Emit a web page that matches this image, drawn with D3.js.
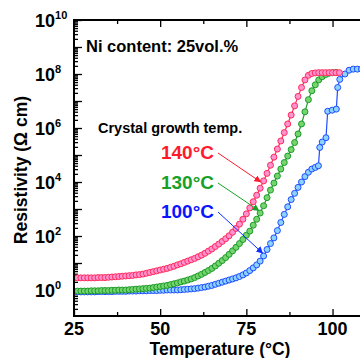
<!DOCTYPE html>
<html>
<head>
<meta charset="utf-8">
<script src="https://cdn.jsdelivr.net/npm/d3@7"></script>
<style>
  html, body { margin: 0; padding: 0; background: #fff; }
  text { font-family: "Liberation Sans", Arial, Helvetica, sans-serif; font-weight: bold; }
</style>
</head>
<body>
<svg id="chart" width="360" height="358"></svg>
<script>
// Resistivity vs. temperature, Ni content 25 vol.%, three crystal growth temperatures.
// Values are log10(resistivity / Ω·cm).

const tempsRed = d3.range(25, 103);     // 140 °C growth, 1 °C steps
const logRhoRed = [
  0.45, 0.45, 0.45, 0.45, 0.45, 0.45, 0.45, 0.46, 0.46, 0.46, 0.47,
  0.48, 0.49, 0.50, 0.51, 0.52, 0.53, 0.54, 0.56, 0.57, 0.59,
  0.62, 0.65, 0.68, 0.71, 0.74, 0.77, 0.80, 0.84, 0.88, 0.93,
  0.97, 1.02, 1.07, 1.12, 1.17, 1.23, 1.29, 1.36, 1.44, 1.52,
  1.61, 1.70, 1.80, 1.90, 2.01, 2.14, 2.28, 2.44, 2.62, 2.82,
  3.04, 3.27, 3.51, 3.77, 4.04, 4.32, 4.62, 4.92, 5.22, 5.52,
  5.83, 6.15, 6.48, 6.82, 7.17, 7.50, 7.78, 7.95, 8.02, 8.04,
  8.05, 8.05, 8.05, 8.05, 8.05, 8.05, 8.05
];

const tempsGreen = d3.range(25, 102);   // 130 °C growth
const logRhoGreen = [
  -0.04, -0.04, -0.04, -0.04, -0.04, -0.03, -0.03, -0.03, -0.02, -0.02, -0.02,
  -0.01, -0.01, 0.00, 0.00, 0.00, 0.01, 0.02, 0.03, 0.04, 0.05,
  0.06, 0.07, 0.09, 0.11, 0.13, 0.15, 0.17, 0.20, 0.23, 0.26,
  0.30, 0.33, 0.37, 0.41, 0.46, 0.52, 0.58, 0.65, 0.72, 0.80,
  0.89, 0.99, 1.09, 1.20, 1.32, 1.45, 1.58, 1.72, 1.87, 2.03,
  2.18, 2.40, 2.62, 2.85, 3.12, 3.42, 3.70, 3.96, 4.22, 4.48,
  4.72, 4.96, 5.20, 5.46, 5.78, 6.15, 6.60, 7.05, 7.38, 7.60,
  7.78, 7.90, 7.98, 8.03, 8.05, 8.06
];

const tempsBlue = [                     // 100 °C growth
  ...d3.range(25, 95),
  95, 95.9, 96.3, 97.0, 98.1, 98.6, 99.9, 101.1, 101.5, 102.1,
  103.6, 104.8, 106.0, 107.2, 108.4, 109.6
];
const logRhoBlue = [
  -0.07, -0.07, -0.07, -0.07, -0.07, -0.07, -0.07, -0.06, -0.06, -0.06, -0.06,
  -0.06, -0.05, -0.05, -0.05, -0.05, -0.04, -0.04, -0.04, -0.03, -0.03,
  -0.03, -0.02, -0.02, -0.02, -0.01, -0.01, 0.00, 0.00, 0.00, 0.00,
  0.01, 0.02, 0.03, 0.04, 0.05, 0.07, 0.09, 0.11, 0.14, 0.17,
  0.21, 0.25, 0.29, 0.33, 0.37, 0.41, 0.45, 0.50, 0.56, 0.63,
  0.72, 0.82, 0.93, 1.07, 1.26, 1.50, 1.72, 1.93, 2.20, 2.50,
  2.80, 3.08, 3.35, 3.58, 3.80, 4.00, 4.20, 4.36, 4.48,
  4.54, 4.60, 5.28, 5.48, 5.64, 6.62, 6.66, 6.70, 7.50, 7.80,
  8.00, 8.14, 8.18, 8.18, 8.18, 8.18
];

const seriesNames = ["100℃", "130℃", "140℃"];
const xTickLabels = [25, 50, 75, 100];
const xMinorTicks = [37.5, 62.5, 87.5];
const yLabelExponents = [0, 2, 4, 6, 8, 10];

const series = [
  { name: "100°C", temps: tempsBlue,  vals: logRhoBlue,  stroke: "#1f4bff", fill: "#8cd2ff", text: "#0a14ff" },
  { name: "130°C", temps: tempsGreen, vals: logRhoGreen, stroke: "#1d9a2a", fill: "#74d46e", text: "#17a02a" },
  { name: "140°C", temps: tempsRed,   vals: logRhoRed,   stroke: "#ff2a5a", fill: "#ff92d0", text: "#ff1a2e" }
];

const svg = d3.select("#chart");
const L = 74, R = 367, T = 20, B = 316;

const x = d3.scaleLinear().domain([25, 110]).range([L, R]);
const y = d3.scaleLog().domain([Math.pow(10, -26 / 27), 1e10]).range([B, T]);

// clip for the data
svg.append("defs").append("clipPath").attr("id", "plot-clip")
  .append("rect").attr("x", L).attr("y", T).attr("width", R - L).attr("height", B - T);

// arrowheads
series.forEach((s, i) => {
  svg.select("defs").append("marker")
    .attr("id", "arrow" + i)
    .attr("viewBox", "0 0 10 10").attr("refX", 9).attr("refY", 5)
    .attr("markerWidth", 7).attr("markerHeight", 7)
    .attr("markerUnits", "userSpaceOnUse")
    .attr("orient", "auto")
    .append("path").attr("d", "M0,0 L10,5 L0,10 Z").attr("fill", s.stroke === "#1f4bff" ? "#1030ff" : s.text);
});

// axes (ticks only; frame drawn separately)
const decades = d3.range(-0, 11).map(e => Math.pow(10, e));
const minors = [];
for (let e = -1; e < 10; e++) for (let m = 2; m <= 9; m++) {
  const v = m * Math.pow(10, e);
  if (v >= y.domain()[0] && v <= 1e10) minors.push(v);
}
function styleAxis(g) {
  g.select(".domain").remove();
  g.selectAll("line").attr("stroke", "#000").attr("stroke-width", 1.3);
}
svg.append("g").attr("transform", `translate(${L},0)`)
  .call(d3.axisRight(y).tickValues(decades).tickSize(8).tickFormat(""))
  .call(styleAxis);
svg.append("g").attr("transform", `translate(${L},0)`)
  .call(d3.axisRight(y).tickValues(minors).tickSize(4).tickFormat(""))
  .call(styleAxis);
svg.append("g").attr("transform", `translate(${R},0)`)
  .call(d3.axisLeft(y).tickValues(decades).tickSize(7).tickFormat(""))
  .call(styleAxis);
svg.append("g").attr("transform", `translate(0,${B})`)
  .call(d3.axisTop(x).tickValues(xTickLabels).tickSize(7).tickFormat(""))
  .call(styleAxis);
svg.append("g").attr("transform", `translate(0,${B})`)
  .call(d3.axisTop(x).tickValues(xMinorTicks).tickSize(4).tickFormat(""))
  .call(styleAxis);
svg.append("g").attr("transform", `translate(0,${T})`)
  .call(d3.axisBottom(x).tickValues(xTickLabels).tickSize(7).tickFormat(""))
  .call(styleAxis);
svg.append("g").attr("transform", `translate(0,${T})`)
  .call(d3.axisBottom(x).tickValues(xMinorTicks).tickSize(4).tickFormat(""))
  .call(styleAxis);

// data: lines and open circles
const plot = svg.append("g").attr("clip-path", "url(#plot-clip)");
const line = d3.line().x(d => x(d[0])).y(d => y(Math.pow(10, d[1])));
series.forEach(s => {
  const pts = d3.zip(s.temps, s.vals);
  plot.append("path").datum(pts).attr("d", line)
    .attr("fill", "none").attr("stroke", s.stroke).attr("stroke-width", 1.2);
  plot.append("g").selectAll("circle").data(pts).join("circle")
    .attr("cx", d => x(d[0])).attr("cy", d => y(Math.pow(10, d[1])))
    .attr("r", 3).attr("fill", s.fill).attr("stroke", s.stroke).attr("stroke-width", 1);
});

// frame
svg.append("rect").attr("x", L).attr("y", T).attr("width", R - L).attr("height", B - T)
  .attr("fill", "none").attr("stroke", "#000").attr("stroke-width", 2);

// y tick labels 10^n
yLabelExponents.forEach(e => {
  const t = svg.append("text").attr("x", 35).attr("y", y(Math.pow(10, e)) + 6.5)
    .attr("font-size", 18).attr("fill", "#000");
  t.append("tspan").text("10");
  t.append("tspan").attr("dy", -8).attr("font-size", 11).text(e);
});

// x tick labels
xTickLabels.forEach(v => {
  svg.append("text").attr("x", x(v)).attr("y", 335).attr("text-anchor", "middle")
    .attr("font-size", 18).attr("fill", "#000").text(v);
});

// axis titles
svg.append("text").attr("x", 220).attr("y", 355).attr("text-anchor", "middle")
  .attr("font-size", 17.5).attr("fill", "#000").text("Temperature (°C)");
svg.append("text").attr("transform", "translate(27,170) rotate(-90)").attr("text-anchor", "middle")
  .attr("font-size", 17.5).attr("fill", "#000").text("Resistivity (Ω cm)");

// annotations
svg.append("text").attr("x", 86).attr("y", 52).attr("font-size", 16.5).attr("fill", "#000")
  .text("Ni content: 25vol.%");
svg.append("text").attr("x", 98).attr("y", 133).attr("font-size", 14.5).attr("fill", "#000")
  .text("Crystal growth temp.");

// series labels with leader arrows (label temp, baseline y, arrow end on curve)
const labels = [
  { s: series[2], idx: 2, by: 159, end: [80.0, 4.04] },
  { s: series[1], idx: 1, by: 189, end: [79.5, 2.98] },
  { s: series[0], idx: 0, by: 218, end: [80.6, 1.40] }
];
labels.forEach(l => {
  svg.append("text").attr("x", 214).attr("y", l.by).attr("text-anchor", "end")
    .attr("font-size", 19).attr("fill", l.s.text).text(l.s.name);
  svg.append("line")
    .attr("x1", 218).attr("y1", l.by - 6)
    .attr("x2", x(l.end[0]) - 3).attr("y2", y(Math.pow(10, l.end[1])) + 1)
    .attr("stroke", l.s.text === "#0a14ff" ? "#1030ff" : l.s.text).attr("stroke-width", 1)
    .attr("marker-end", `url(#arrow${l.idx})`);
});
</script>
</body>
</html>
